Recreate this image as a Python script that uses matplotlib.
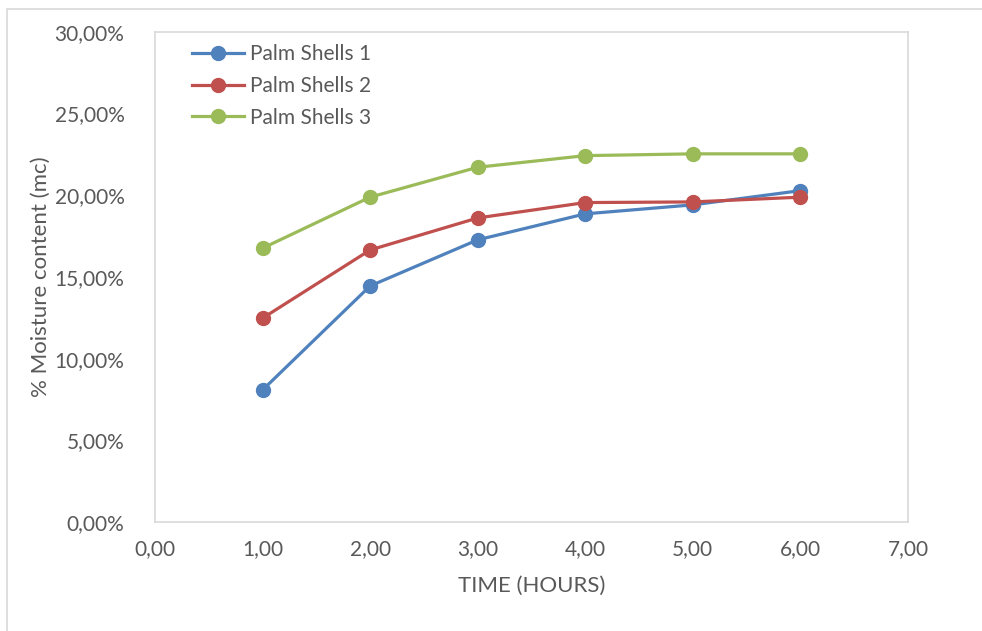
import matplotlib.pyplot as plt
from matplotlib.patches import Rectangle
from matplotlib.ticker import FuncFormatter, MultipleLocator

plt.rcParams['font.family'] = ['Lato', 'DejaVu Sans']

hours = [1, 2, 3, 4, 5, 6]
shells_1 = [0.0809, 0.1445, 0.1727, 0.1886, 0.1941, 0.2028]
shells_2 = [0.1248, 0.1665, 0.1861, 0.1955, 0.1959, 0.1988]
shells_3 = [0.1676, 0.1988, 0.2171, 0.2242, 0.2253, 0.2253]
series_names = ['Palm Shells 1', 'Palm Shells 2', 'Palm Shells 3']
colors = ['#4F81BD', '#C0504D', '#9BBB59']
text_color = '#595959'

fig = plt.figure(figsize=(9.82, 6.31), dpi=100)
ax = fig.add_axes([0.1578, 0.1723, 0.7668, 0.7775])

# outer chart border
fig.patches.append(Rectangle((7 / 982, -0.05), 1.1, 1 - 9 / 631 + 0.05,
                             transform=fig.transFigure, fill=False,
                             edgecolor='#D9D9D9', linewidth=1.2))

for ys, name, c in zip([shells_1, shells_2, shells_3], series_names, colors):
    ax.plot(hours, ys, color=c, linewidth=2.3, marker='o', markersize=10,
            label=name)

ax.set_xlim(0, 7)
ax.set_ylim(0, 0.30)
ax.xaxis.set_major_locator(MultipleLocator(1))
ax.yaxis.set_major_locator(MultipleLocator(0.05))
ax.xaxis.set_major_formatter(FuncFormatter(lambda v, p: f'{v:.2f}'.replace('.', ',')))
ax.yaxis.set_major_formatter(FuncFormatter(lambda v, p: f'{v * 100:.2f}%'.replace('.', ',')))
ax.tick_params(length=0, labelsize=15, labelcolor=text_color)
ax.tick_params(axis='x', pad=12)
ax.tick_params(axis='y', pad=22)
for s in ax.spines.values():
    s.set_color('#D9D9D9')
    s.set_linewidth(1.2)

ax.set_xlabel('TIME (HOURS)', fontsize=16, color=text_color, labelpad=12)
ax.set_ylabel('% Moisture content (mc)', fontsize=16, color=text_color, labelpad=3)

ax.legend(loc='upper left', bbox_to_anchor=(0.049, 0.975), frameon=False,
          fontsize=15, labelcolor=text_color, handlelength=2.5,
          handletextpad=0.3, labelspacing=0.57, borderpad=0,
          borderaxespad=0)

fig.savefig('out.png', dpi=100)
